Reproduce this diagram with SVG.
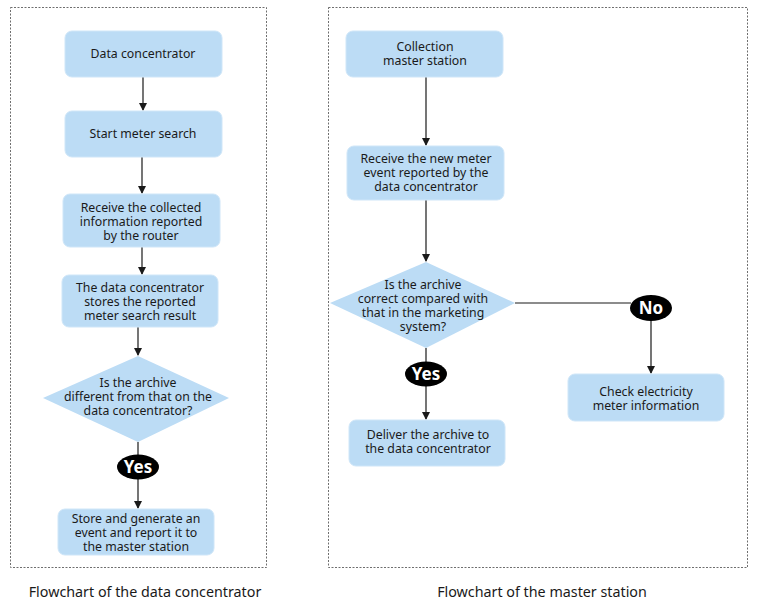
<svg xmlns="http://www.w3.org/2000/svg" width="758" height="610" viewBox="0 0 758 610">
<style>
.frame{fill:none;stroke:#6e6e6e;stroke-width:1;stroke-dasharray:2,1.5}
.box{fill:#bcdcf5;stroke:#cfe6f8;stroke-width:1}
.dia{fill:#bcdcf5}
.t{font-family:"Noto Sans","Open Sans",sans-serif;font-size:12.3px;fill:#1a1a1a;text-anchor:middle}
.cap{font-family:"Noto Sans","Open Sans",sans-serif;font-size:14.3px;fill:#1a1a1a;text-anchor:middle}
.lab{font-family:"Noto Sans","Open Sans",sans-serif;font-size:17px;font-weight:bold;fill:#fff;text-anchor:middle}
.ln{fill:none;stroke:#1a1a1a;stroke-width:1.2}
</style>
<defs>
<marker id="ah" markerWidth="8" markerHeight="8" refX="7" refY="4" orient="auto" markerUnits="userSpaceOnUse">
<path d="M0,0 L8,4 L0,8 z" fill="#1a1a1a"/>
</marker>
</defs>
<rect x="0" y="0" width="758" height="610" fill="#fff"/>
<rect class="frame" x="10.5" y="7.5" width="256" height="560"/>
<rect class="frame" x="328.5" y="7.5" width="419" height="560"/>

<g id="connectors">
<line class="ln" x1="143" y1="77" x2="143" y2="110" marker-end="url(#ah)"/>
<line class="ln" x1="142" y1="157" x2="142" y2="193" marker-end="url(#ah)"/>
<line class="ln" x1="142" y1="247" x2="142" y2="274" marker-end="url(#ah)"/>
<line class="ln" x1="138" y1="327" x2="138" y2="355" marker-end="url(#ah)"/>
<line class="ln" x1="138" y1="442" x2="138" y2="455"/>
<line class="ln" x1="138" y1="479" x2="138" y2="508" marker-end="url(#ah)"/>
<line class="ln" x1="426" y1="77" x2="426" y2="145" marker-end="url(#ah)"/>
<line class="ln" x1="426" y1="200" x2="426" y2="261" marker-end="url(#ah)"/>
<line class="ln" x1="426" y1="348" x2="426" y2="362"/>
<line class="ln" x1="426" y1="386" x2="426" y2="419" marker-end="url(#ah)"/>
<line class="ln" x1="515" y1="303" x2="631" y2="303"/>
<line class="ln" x1="651" y1="321" x2="651" y2="373" marker-end="url(#ah)"/>
</g>

<g id="n1"><rect class="box" x="65" y="31" width="157" height="46" rx="7"/><text class="t" x="143" y="58">Data concentrator</text></g>
<g id="n2"><rect class="box" x="65" y="111" width="157" height="46" rx="7"/><text class="t" x="143" y="138">Start meter search</text></g>
<g id="n3"><rect class="box" x="63" y="194" width="157" height="53" rx="7"/>
<text class="t" x="141" y="212">Receive the collected</text><text class="t" x="141" y="226">information reported</text><text class="t" x="141" y="240">by the router</text></g>
<g id="n4"><rect class="box" x="62" y="275" width="156" height="52" rx="7"/>
<text class="t" x="140" y="292">The data concentrator</text><text class="t" x="140" y="306">stores the reported</text><text class="t" x="140" y="320">meter search result</text></g>
<g id="n5"><polygon class="dia" points="138,356 229,398 138,442 43,398"/>
<text class="t" x="138" y="387">Is the archive</text><text class="t" x="138" y="401">different from that on the</text><text class="t" x="138" y="415">data concentrator?</text></g>
<g id="yes1"><ellipse cx="138" cy="467" rx="21" ry="12.5" fill="#000"/><text class="lab" x="138" y="473">Yes</text></g>
<g id="n6"><rect class="box" x="58" y="509" width="156" height="46" rx="7"/>
<text class="t" x="136" y="523">Store and generate an</text><text class="t" x="136" y="537">event and report it to</text><text class="t" x="136" y="551">the master station</text></g>

<g id="r1"><rect class="box" x="346" y="31" width="157" height="46" rx="7"/>
<text class="t" x="425" y="51">Collection</text><text class="t" x="425" y="65">master station</text></g>
<g id="r2"><rect class="box" x="347" y="146" width="157" height="54" rx="7"/>
<text class="t" x="426" y="163">Receive the new meter</text><text class="t" x="426" y="177">event reported by the</text><text class="t" x="426" y="191">data concentrator</text></g>
<g id="r3"><polygon class="dia" points="426,262 515,303 426,348 330,303"/>
<text class="t" x="423" y="289">Is the archive</text><text class="t" x="423" y="303">correct compared with</text><text class="t" x="423" y="317">that in the marketing</text><text class="t" x="423" y="331">system?</text></g>
<g id="yes2"><ellipse cx="426" cy="374" rx="21" ry="12.5" fill="#000"/><text class="lab" x="426" y="380">Yes</text></g>
<g id="no"><ellipse cx="651" cy="308" rx="21" ry="13" fill="#000"/><text class="lab" x="651" y="314">No</text></g>
<g id="r4"><rect class="box" x="349" y="420" width="156" height="46" rx="7"/>
<text class="t" x="428" y="439">Deliver the archive to</text><text class="t" x="428" y="453">the data concentrator</text></g>
<g id="r5"><rect class="box" x="568" y="374" width="156" height="47" rx="7"/>
<text class="t" x="646" y="396">Check electricity</text><text class="t" x="646" y="410">meter information</text></g>

<text class="cap" x="145" y="597">Flowchart of the data concentrator</text>
<text class="cap" x="542" y="597">Flowchart of the master station</text>
</svg>
